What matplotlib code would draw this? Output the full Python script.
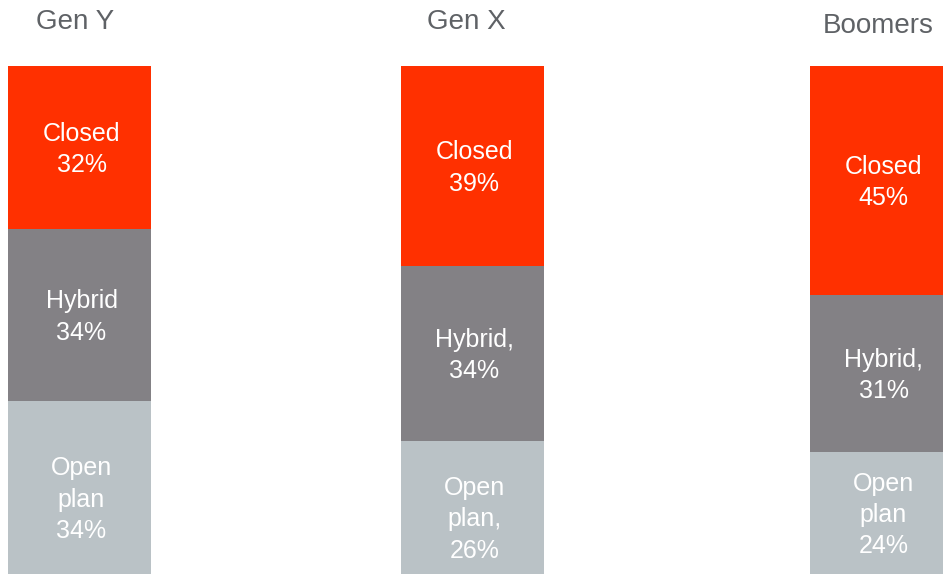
import matplotlib
matplotlib.use("Agg")
import matplotlib.pyplot as plt

# ---- data ----
generations = ["Gen Y", "Gen X", "Boomers"]
segments = ["Open plan", "Hybrid", "Closed"]  # bottom to top
open_plan = [34, 26, 24]
hybrid = [34, 34, 31]
closed = [32, 39, 45]
labels_open = ["Open\nplan\n34%", "Open\nplan,\n26%", "Open\nplan\n24%"]
labels_hybrid = ["Hybrid\n34%", "Hybrid,\n34%", "Hybrid,\n31%"]
labels_closed = ["Closed\n32%", "Closed\n39%", "Closed\n45%"]

# ---- layout / style ----
W, H = 943, 575
bar_left = [8, 401, 810]
bar_width = 143
px_per_pct = 5.08
colors = {"Closed": "#FF3000", "Hybrid": "#838185", "Open plan": "#BAC2C6"}
title_x = [75, 466, 878]
title_y = [22, 22, 26]
open_label_dy_px = [-10, -10, 0]
label_dy_px = -2
font = ["Liberation Sans", "DejaVu Sans"]

fig = plt.figure(figsize=(W / 100, H / 100), dpi=100)
ax = fig.add_axes([0, 1 / H, 1, (H - 1) / H])
ax.set_xlim(0, W)
ax.set_ylim(0, (H - 1) / px_per_pct)
ax.axis("off")

totals = [a + b + c for a, b, c in zip(open_plan, hybrid, closed)]
centers = [l + bar_width / 2 for l in bar_left]
bottoms = [0.0, 0.0, 0.0]
for name, vals, labs in [("Open plan", open_plan, labels_open),
                         ("Hybrid", hybrid, labels_hybrid),
                         ("Closed", closed, labels_closed)]:
    shares = [v / t * 100 for v, t in zip(vals, totals)]
    ax.bar(centers, shares, width=bar_width, bottom=bottoms,
           color=colors[name], linewidth=0)
    for i, (s, lab) in enumerate(zip(shares, labs)):
        dy = open_label_dy_px[i] if name == "Open plan" else 0
        dy = (dy + label_dy_px) / px_per_pct
        ax.text(centers[i] + 2, bottoms[i] + s / 2 + dy, lab, ha="center",
                va="center", color="white", fontsize=18, family=font,
                linespacing=1.38)
    bottoms = [b + s for b, s in zip(bottoms, shares)]

for g, tx, ty in zip(generations, title_x, title_y):
    fig.text(tx / W, 1 - ty / H, g, ha="center", va="center",
             color="#5F6266", fontsize=20, family=font)

fig.savefig("out.png", dpi=100)
